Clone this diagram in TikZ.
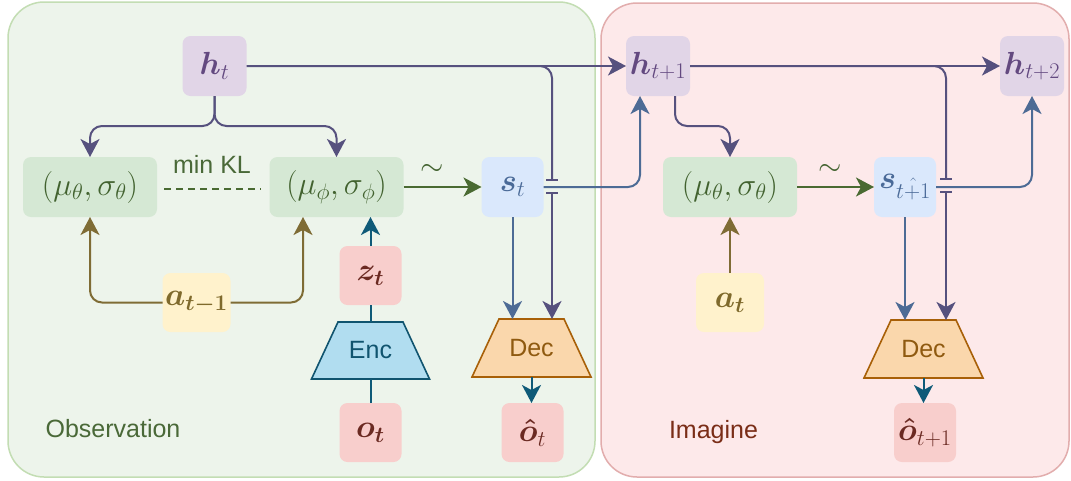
\RequirePackage{fix-cm}
\documentclass[tikz,border=0pt]{standalone}
\usepackage{amsmath}
\usepackage{fontspec}
\newfontfamily\labelfont{Liberation Sans}
\usetikzlibrary{arrows.meta}

\definecolor{obsfill}{HTML}{EDF4EB}
\definecolor{obsdraw}{HTML}{C3DDB3}
\definecolor{imgfill}{HTML}{FDE9EA}
\definecolor{imgdraw}{HTML}{E2ADAD}
\definecolor{hfill}{HTML}{E1D5E7}
\definecolor{htext}{HTML}{634980}
\definecolor{gfill}{HTML}{D5E8D4}
\definecolor{gtext}{HTML}{42622F}
\definecolor{sfill}{HTML}{DAE8FC}
\definecolor{stext}{HTML}{4A6A98}
\definecolor{afill}{HTML}{FFF2CC}
\definecolor{atext}{HTML}{7F6A2C}
\definecolor{rfill}{HTML}{F8CECC}
\definecolor{rtext}{HTML}{6B2A22}
\definecolor{encfill}{HTML}{B1DDF0}
\definecolor{encdraw}{HTML}{10546F}
\definecolor{decfill}{HTML}{FAD7AC}
\definecolor{decdraw}{HTML}{A86008}
\definecolor{dectext}{HTML}{8F5A10}
\definecolor{pcol}{HTML}{56517E}
\definecolor{scol}{HTML}{4D6B95}
\definecolor{gcol}{HTML}{4A6A32}
\definecolor{acol}{HTML}{7F6C35}
\definecolor{tcol}{HTML}{0F5A78}
\definecolor{obstext}{HTML}{4A6938}
\definecolor{imgtext}{HTML}{7A2D17}

\begin{document}
\begin{tikzpicture}[x=1pt,y=-1pt,
  mbox/.style={rounded corners=8pt, inner sep=0pt, outer sep=0pt,
    font=\fontsize{32}{38}\selectfont},
  hbox/.style={mbox, fill=hfill, text=htext, minimum width=64pt, minimum height=60pt},
  gbox/.style={mbox, fill=gfill, text=gtext, minimum width=134pt, minimum height=60pt},
  sbox/.style={mbox, fill=sfill, text=stext, minimum width=62pt, minimum height=60pt},
  abox/.style={mbox, fill=afill, text=atext, minimum width=68pt, minimum height=59pt},
  rbox/.style={mbox, fill=rfill, text=rtext, minimum width=62pt, minimum height=59pt},
  trap/.style={inner sep=0pt, outer sep=0pt, minimum height=57pt},
  sans/.style={font=\labelfont\fontsize{25}{30}\selectfont, inner sep=0pt},
  conn/.style={line width=2pt, rounded corners=12pt},
  pline/.style={conn, draw=pcol, -{Stealth[length=18pt,width=19pt,inset=5pt,fill=pcol]}},
  sline/.style={conn, draw=scol, -{Stealth[length=18pt,width=19pt,inset=5pt,fill=scol]}},
  gline/.style={conn, draw=gcol, -{Stealth[length=18pt,width=19pt,inset=5pt,fill=gcol]}},
  aline/.style={conn, draw=acol, -{Stealth[length=18pt,width=19pt,inset=5pt,fill=acol]}},
  tline/.style={conn, draw=tcol, -{Stealth[length=18pt,width=19pt,inset=5pt,fill=tcol]}},
  plain/.style={conn, draw=#1},
  jumpbar/.style={line width=2pt, draw=pcol},
]
\useasboundingbox (0,0) rectangle (1071,480);
\fill[white] (0,0) rectangle (1071,480);

% panels
\draw[fill=obsfill, draw=obsdraw, line width=1.5pt, rounded corners=36pt] (8,2) rectangle (595,477);
\draw[fill=imgfill, draw=imgdraw, line width=1.5pt, rounded corners=36pt] (601,3) rectangle (1069,477);

% observation side
\node[hbox] (ht) at (214.5,66) {$\boldsymbol{h}_t$};
\node[gbox] (pth) at (90,187) {$(\mu_\theta,\sigma_\theta)$};
\node[gbox] (pphi) at (336.5,187) {$(\mu_\phi,\sigma_\phi)$};
\node[sbox] (st) at (512.5,187) {$\boldsymbol{s}_t$};
\node[abox] (atm1) at (196.5,302.5) {$\boldsymbol{a_{t-1}}$};
\node[rbox] (zt) at (370.5,275.5) {$\boldsymbol{z_t}$};
\node[rbox] (ot) at (370.5,432.5) {$\boldsymbol{o_t}$};
\node[rbox] (oh) at (532.5,432.5) {$\boldsymbol{\hat{o}}_t$};

\node[trap, minimum width=118pt] (enc) at (370.5,350.5) {};
\filldraw[fill=encfill, draw=encdraw, line width=1.6pt]
  (enc.south west) -- (enc.south east) -- ([xshift=-26.5pt]enc.north east)
  -- ([xshift=26.5pt]enc.north west) -- cycle;
\node[sans, text=encdraw] (enclabel) at (enc.center) {Enc};

\node[trap, minimum width=119pt, minimum height=58pt] (dec) at (531.5,348) {};
\filldraw[fill=decfill, draw=decdraw, line width=1.6pt]
  (dec.south west) -- (dec.south east) -- ([xshift=-27pt]dec.north east)
  -- ([xshift=27pt]dec.north west) -- cycle;
\node[sans, text=dectext] (declabel) at (dec.center) {Dec};

\node[sans, text=obstext] (obs) at (113,429) {Observation};
\node[sans, text=obstext] (kl) at (212,164) {min KL};
\node[text=gtext, inner sep=0pt, font=\fontsize{30}{36}\selectfont] (til1) at (432,170) {$\sim$};

% imagination side
\node[hbox] (ht1) at (658,66) {$\boldsymbol{h}_{t+1}$};
\node[hbox] (ht2) at (1032,66) {$\boldsymbol{h}_{t+2}$};
\node[gbox] (pth2) at (730,187) {$(\mu_\theta,\sigma_\theta)$};
\node[sbox] (sh) at (905,187) {$\boldsymbol{s}_{\hat{t+1}}$};
\node[abox] (at) at (730,302.5) {$\boldsymbol{a_t}$};
\node[rbox] (oh1) at (925,432.5) {$\boldsymbol{\hat{o}}_{t+1}$};

\node[trap, minimum width=119pt, minimum height=58pt] (dec2) at (923.5,349) {};
\filldraw[fill=decfill, draw=decdraw, line width=1.6pt]
  (dec2.south west) -- (dec2.south east) -- ([xshift=-27pt]dec2.north east)
  -- ([xshift=27pt]dec2.north west) -- cycle;
\node[sans, text=dectext] (dec2label) at (dec2.center) {Dec};

\node[sans, text=imgtext] (img) at (713.5,432) {Imagine};
\node[text=gtext, inner sep=0pt, font=\fontsize{30}{36}\selectfont] (til2) at (830,170) {$\sim$};

% bend and crossing points
\coordinate (splitA) at (214.5,126);
\coordinate (brA) at (552,66);
\coordinate (gapA1) at (552,180);
\coordinate (gapA2) at (552,193);
\coordinate (brB) at (640,187);
\coordinate (splitC) at (675,126);
\coordinate (brC) at (946,66);
\coordinate (gapC1) at (946,179);
\coordinate (gapC2) at (946,192);
\coordinate (brD) at (1032,187);

% observation connectors
\draw[pline] (ht.south) -- (splitA) -| (pth.north);
\draw[pline] (ht.south) -- (splitA) -| (pphi.north);
\draw[pline] (ht.east) -- (ht1.west);
\draw[plain=pcol] (ht.east) -- (brA) -- (gapA1);
\draw[jumpbar] ([xshift=-6pt]gapA1) -- ([xshift=6pt]gapA1);
\draw[jumpbar] ([xshift=-6pt]gapA2) -- ([xshift=6pt]gapA2);
\draw[pline] (gapA2) -- (brA |- dec.north);
\draw[gcol, line width=1.5pt, dash pattern=on 7pt off 5pt]
  ([xshift=7pt,yshift=-2pt]pth.east) -- ([xshift=-9pt,yshift=-2pt]pphi.west);
\draw[gline] (pphi.east) -- (st.west);
\draw[sline] (st.east) -- (brB) -- (brB |- ht1.south);
\draw[sline] (st.south) -- (st.south |- dec.north);
\draw[tline] (dec.south) -- (dec.south |- oh.north);
\draw[plain=tcol] (ot.north) -- (enc.south);
\draw[plain=tcol] (enc.north) -- (zt.south);
\draw[tline] (zt.north) -- (zt.north |- pphi.south);
\draw[aline] (atm1.west) -| (pth.south);
\draw[aline] (atm1.east) -| ([xshift=-33.5pt]pphi.south);

% imagination connectors
\draw[pline] (ht1.east) -- (ht2.west);
\draw[plain=pcol] (ht1.east) -- (brC) -- (gapC1);
\draw[jumpbar] ([xshift=-6pt]gapC1) -- ([xshift=6pt]gapC1);
\draw[jumpbar] ([xshift=-6pt]gapC2) -- ([xshift=6pt]gapC2);
\draw[pline] (gapC2) -- (brC |- dec2.north);
\draw[pline] (splitC |- ht1.south) -- (splitC) -| (pth2.north);
\draw[gline] (pth2.east) -- (sh.west);
\draw[sline] (sh.east) -- (brD) -- (ht2.south);
\draw[sline] (sh.south) -- (sh.south |- dec2.north);
\draw[tline] (dec2.south) -- (dec2.south |- oh1.north);
\draw[aline] (at.north) -- (pth2.south);
\end{tikzpicture}
\end{document}
